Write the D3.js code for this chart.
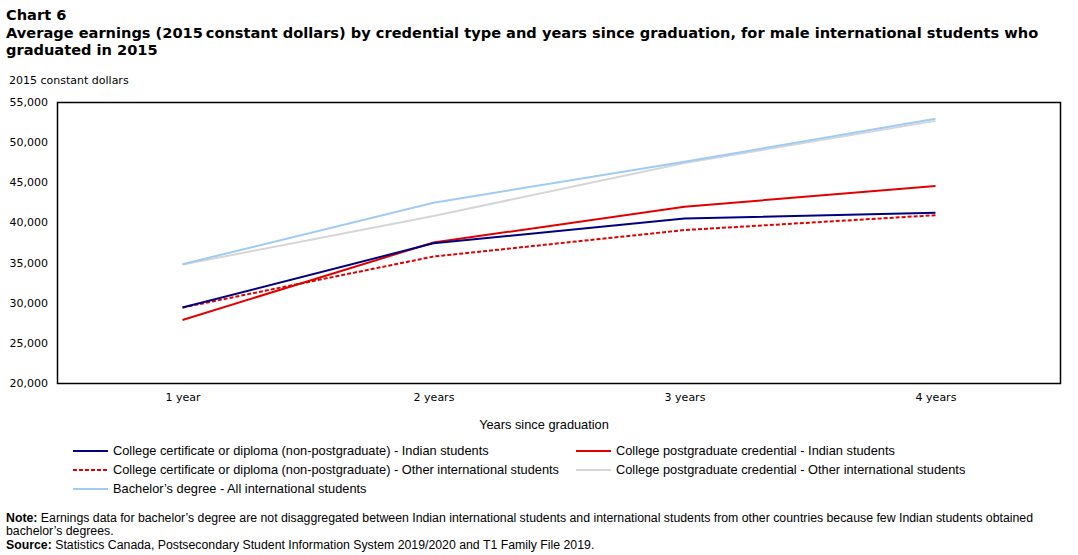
<!DOCTYPE html>
<html>
<head>
<meta charset="utf-8">
<script src="https://cdn.jsdelivr.net/npm/d3@7"></script>
<style>
	body {margin:0; background:#fff;}
	svg {display:block;}
	.title {font-family:Verdana, "DejaVu Sans", sans-serif; font-weight:bold; font-size:14.6px; fill:#000;}
	.tick text {font-family:Verdana, "DejaVu Sans", sans-serif; font-size:11px; fill:#000;}
	.narrow {font-family:"Liberation Sans Narrow", "Arial Narrow", sans-serif; font-size:12.8px; fill:#000;}
	.note {font-family:"Liberation Sans Narrow", "Arial Narrow", sans-serif; font-size:12.3px; fill:#000;}
</style>
</head>
<body>
<div id="chart"></div>
<script>
var categories = ["1 year", "2 years", "3 years", "4 years"];
var yTicks = [20000, 25000, 30000, 35000, 40000, 45000, 50000, 55000];
var seriesNames = [
	"College certificate or diploma (non-postgraduate) - Indian students",
	"College postgraduate credential - Indian students",
	"College certificate or diploma (non-postgraduate) - Other international students",
	"College postgraduate credential - Other international students",
	"Bachelor\u2019s degree - All international students"
];
var certIndian = [29400, 37400, 40500, 41200];
var postgradIndian = [27850, 37500, 41950, 44550];
var certOther = [29400, 35750, 39050, 40900];
var postgradOther = [34750, 40800, 47400, 52650];
var bachelorAll = [34800, 42450, 47550, 52900];
var seriesColors = ["#000080", "#e00000", "#e00000", "#d6d6d6", "#9fcbf5"];
var seriesDash = [null, null, "4,2", null, null];

var w = 1078, h = 555;
var margin = {left: 57, right: 17, top: 102, bottom: 172};

var svg = d3.select("#chart").append("svg")
	.attr("width", w)
	.attr("height", h)
;

//Titles
svg.append("text").attr("class", "title").attr("x", 6).attr("y", 20).text("Chart 6");
svg.append("text").attr("class", "title").attr("x", 6).attr("y", 38)
	.text("Average earnings (2015\u2009constant dollars) by credential type and years since graduation, for male international students who");
svg.append("text").attr("class", "title").attr("x", 6).attr("y", 55).text("graduated in 2015");

svg.append("text")
	.attr("x", 9)
	.attr("y", 84)
	.style("font-family", "Verdana, 'DejaVu Sans', sans-serif")
	.style("font-size", "11px")
	.text("2015 constant dollars")
;

var xScale = d3.scalePoint()
	.domain(categories)
	.range([margin.left, w - margin.right])
	.padding(0.5)
;
var yScale = d3.scaleLinear()
	.domain([20000, 55000])
	.range([h - margin.bottom, margin.top])
;

//Y axis labels, no tick lines
var yAxis = svg.append("g")
	.attr("transform", "translate(" + margin.left + ",0)")
	.call(d3.axisLeft(yScale).tickValues(yTicks).tickSize(0).tickPadding(9).tickFormat(d3.format(",")))
;
yAxis.select(".domain").remove();

var xAxis = svg.append("g")
	.attr("transform", "translate(0," + (h - margin.bottom) + ")")
	.call(d3.axisBottom(xScale).tickSize(0).tickPadding(10))
;
xAxis.select(".domain").remove();
xAxis.selectAll("text").attr("class", "narrow").style("font-family", null).style("font-size", null);

//Border around the plot
svg.append("rect")
	.attr("x", margin.left + 0.5)
	.attr("y", margin.top + 0.5)
	.attr("width", w - margin.left - margin.right - 1)
	.attr("height", h - margin.top - margin.bottom)
	.style("fill", "none")
	.style("stroke", "#000")
	.style("stroke-width", 1.5)
;

svg.append("text")
	.attr("class", "narrow")
	.attr("x", 544)
	.attr("y", 429)
	.style("text-anchor", "middle")
	.text("Years since graduation")
;

var allSeries = [certIndian, postgradIndian, certOther, postgradOther, bachelorAll];
var line = d3.line()
	.x(function(d, i) {return xScale(categories[i]);})
	.y(function(d) {return yScale(d);})
;

//Draw back to front so bachelor sits on top of grey, blue over dashed
var drawOrder = [3, 4, 2, 1, 0];
drawOrder.forEach(function(k) {
	svg.append("path")
		.datum(allSeries[k])
		.attr("d", line)
		.style("fill", "none")
		.style("stroke", seriesColors[k])
		.style("stroke-width", 2)
		.style("stroke-dasharray", seriesDash[k])
	;
});

//Legend
var legendPos = [[73, 451], [576, 451], [73, 470], [576, 470], [73, 489]];
var legend = svg.selectAll("g.legend").data(seriesNames)
	.enter().append("g")
		.attr("class", "legend")
		.attr("transform", function(d, i) {return "translate(" + legendPos[i][0] + "," + legendPos[i][1] + ")";})
;
legend.append("line")
	.attr("x1", 0)
	.attr("x2", 35)
	.style("stroke", function(d, i) {return seriesColors[i];})
	.style("stroke-width", 2)
	.style("stroke-dasharray", function(d, i) {return seriesDash[i];})
;
legend.append("text")
	.attr("class", "narrow")
	.attr("x", 40)
	.attr("dy", "0.35em")
	.text(function(d) {return d;})
;

//Notes
var note = svg.append("text").attr("class", "note").attr("x", 6).attr("y", 522);
note.append("tspan").style("font-weight", "bold").text("Note:");
note.append("tspan").text(" Earnings data for bachelor\u2019s degree are not disaggregated between Indian international students and international students from other countries because few Indian students obtained");
svg.append("text").attr("class", "note").attr("x", 6).attr("y", 535).text("bachelor\u2019s degrees.");
var source = svg.append("text").attr("class", "note").attr("x", 6).attr("y", 549);
source.append("tspan").style("font-weight", "bold").text("Source:");
source.append("tspan").text(" Statistics Canada, Postsecondary Student Information System 2019/2020 and T1 Family File 2019.");
</script>
</body>
</html>
